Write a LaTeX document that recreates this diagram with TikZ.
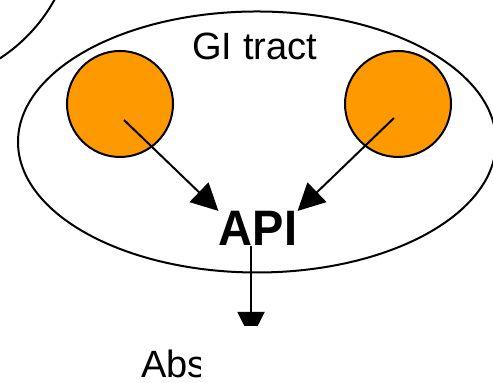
\documentclass[tikz,border=0pt]{standalone}
\usepackage{fontspec}
\setmainfont{Liberation Sans}
\usetikzlibrary{arrows.meta,shapes}
\tikzset{>={Triangle[length=13.5pt,width=13.5pt]}}

\definecolor{pillorange}{RGB}{255,153,0}

\begin{document}
\begin{tikzpicture}[x=0.5pt, y=0.5pt,
compartment/.style={ellipse, draw, line width=1pt, inner sep=0pt},
dose/.style={circle, draw, fill=pillorange, line width=1pt, minimum size=53pt, inner sep=0pt},
flow/.style={->, line width=1pt},
tag/.style={inner sep=0pt, font=\fontsize{19pt}{22pt}\selectfont}
]
\useasboundingbox (0,0) rectangle (493,383);

\node (outer) [compartment, circle, minimum size=165pt] at (-90,463) {};
\node (gitract) [compartment, minimum width=239pt, minimum height=130.5pt] at (257,241) {};
\node (gilabel) [tag, anchor=base west] at (192,323) {GI tract};

\node (doseA) [dose] at (120,279) {};
\node (doseB) [dose] at (398,279) {};

\node (api) [inner sep=0pt, yscale=1.06, font=\bfseries\fontsize{23.5pt}{26pt}\selectfont] at (258,154.5) {API};

\draw [flow] ([shift={(4,-16)}]doseA.center) -- (api.north west);
\draw [flow] ([shift={(-4,-14)}]doseB.center) -- (api.north east);

% absorption arrow, cut off at the bottom
\coordinate (absflow) at (251,44);
\begin{scope}
\clip (0,57) rectangle (493,383);
\draw [flow] ([xshift=-3.5pt]api.south) -- (absflow);
\end{scope}

\begin{scope}
\clip (0,0) rectangle (200,57);
\node (abs) [tag, anchor=base west] at (141,5) {Abs};
\end{scope}
\end{tikzpicture}
\end{document}
